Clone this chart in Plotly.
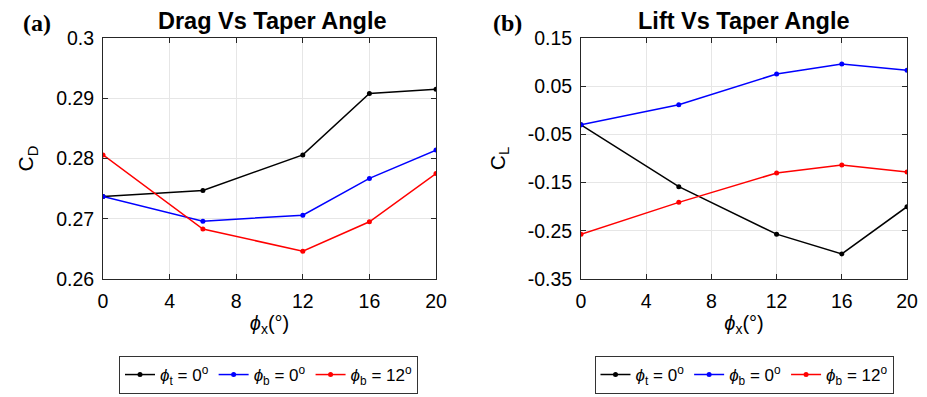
import plotly.graph_objects as go

phi_x = [0, 6, 12, 16, 20]
x_ticks = [0, 4, 8, 12, 16, 20]

# Drag coefficient
cd_t0 = [0.2737, 0.2747, 0.2806, 0.2908, 0.2915]
cd_b0 = [0.2737, 0.2696, 0.2706, 0.2767, 0.2814]
cd_b12 = [0.2806, 0.2683, 0.2646, 0.2695, 0.2775]
cd_ticks = [0.26, 0.27, 0.28, 0.29, 0.30]
cd_ticktext = ["0.26", "0.27", "0.28", "0.29", "0.3"]

# Lift coefficient
cl_t0 = [-0.030, -0.1585, -0.257, -0.298, -0.200]
cl_b0 = [-0.030, 0.0116, 0.0753, 0.096, 0.083]
cl_b12 = [-0.257, -0.191, -0.130, -0.1135, -0.128]
cl_ticks = [-0.35, -0.25, -0.15, -0.05, 0.05, 0.15]
cl_ticktext = ["-0.35", "-0.25", "-0.15", "-0.05", "0.05", "0.15"]

names = ["<i>ϕ</i><sub>t</sub> = 0<sup>o</sup>",
         "<i>ϕ</i><sub>b</sub> = 0<sup>o</sup>",
         "<i>ϕ</i><sub>b</sub> = 12<sup>o</sup>"]
colors = ["#000000", "#0000ff", "#ff0000"]

FONT = "Arial, 'Liberation Sans', sans-serif"
SERIF = "'Times New Roman', 'Liberation Serif', serif"

fig = go.Figure()

for ys, nm, c in zip([cd_t0, cd_b0, cd_b12], names, colors):
    fig.add_trace(go.Scatter(x=phi_x, y=ys, mode="lines+markers", name=nm,
                             line=dict(color=c, width=1.5),
                             marker=dict(color=c, size=5),
                             xaxis="x", yaxis="y", legend="legend"))
for ys, nm, c in zip([cl_t0, cl_b0, cl_b12], names, colors):
    fig.add_trace(go.Scatter(x=phi_x, y=ys, mode="lines+markers", name=nm,
                             line=dict(color=c, width=1.5),
                             marker=dict(color=c, size=5),
                             xaxis="x2", yaxis="y2", legend="legend2"))

W, H = 927, 397
yb = 1 - 279 / H
yt = 1 - 38 / H

axis_common = dict(showline=True, linecolor="#262626", linewidth=1, mirror="ticks",
                   ticks="inside", ticklen=5, tickcolor="#262626",
                   showgrid=True, gridcolor="#e6e6e6", gridwidth=1, automargin=False,
                   zeroline=False, tickfont=dict(family=FONT, size=19.5, color="black"))

xt = dict(text="<i>ϕ</i><sub>x</sub>(°)", font=dict(family=FONT, size=20, color="black"), standoff=4)

fig.update_layout(
    width=W, height=H,
    margin=dict(l=0, r=0, t=0, b=0),
    paper_bgcolor="white", plot_bgcolor="white",
    font=dict(family=FONT, color="black"),
    xaxis=dict(domain=[103 / W, 436 / W], range=[0, 20], tickvals=x_ticks, anchor="y",
               title=xt, ticklabelstandoff=5, **axis_common),
    yaxis=dict(domain=[yb, yt], range=[0.26, 0.30], tickvals=cd_ticks, ticktext=cd_ticktext,
               anchor="x", ticklabelstandoff=4,
               title=dict(text="C<sub>D</sub>", font=dict(family=FONT, size=21, color="black"), standoff=16),
               **axis_common),
    xaxis2=dict(domain=[581 / W, 907 / W], range=[0, 20], tickvals=x_ticks, anchor="y2",
                title=xt, ticklabelstandoff=5, **axis_common),
    yaxis2=dict(domain=[yb, yt], range=[-0.35, 0.15], tickvals=cl_ticks, ticktext=cl_ticktext,
                anchor="x2", ticklabelstandoff=4,
                title=dict(text="C<sub>L</sub>", font=dict(family=FONT, size=21, color="black"), standoff=16),
                **axis_common),
    legend=dict(orientation="h", x=268.5 / W, xanchor="center", y=1 - 356 / H, yanchor="top",
                bordercolor="#333333", borderwidth=1, bgcolor="white",
                font=dict(family=FONT, size=17, color="black"),
                itemwidth=30, tracegroupgap=0),
    legend2=dict(orientation="h", x=744 / W, xanchor="center", y=1 - 356 / H, yanchor="top",
                 bordercolor="#333333", borderwidth=1, bgcolor="white",
                 font=dict(family=FONT, size=17, color="black"),
                 itemwidth=30, tracegroupgap=0),
    showlegend=True,
)

for txt, cx in [("<b>Drag Vs Taper Angle</b>", 272), ("<b>Lift Vs Taper Angle</b>", 744)]:
    fig.add_annotation(text=txt, x=cx / W, y=1 - 21 / H, xref="paper", yref="paper",
                       xanchor="center", yanchor="middle", showarrow=False,
                       font=dict(family=FONT, size=23.5, color="black"))
for txt, cx in [("<b>(a)</b>", 37), ("<b>(b)</b>", 507)]:
    fig.add_annotation(text=txt, x=cx / W, y=1 - 23 / H, xref="paper", yref="paper",
                       xanchor="center", yanchor="middle", showarrow=False,
                       font=dict(family=SERIF, size=24, color="black"))

fig.write_html("out.html")
